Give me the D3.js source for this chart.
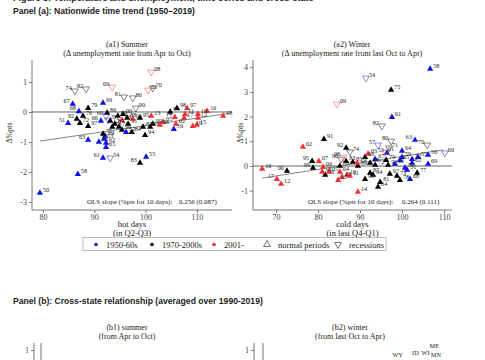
<!DOCTYPE html>
<html><head><meta charset="utf-8">
<script src="https://cdn.jsdelivr.net/npm/d3@7"></script>
<style>body{margin:0;background:#fff}</style>
</head><body>
<svg id="c" width="485" height="360" xmlns="http://www.w3.org/2000/svg"></svg>
<script>
// ---------- DATA ----------
const summerYears = ["50","51","52","53","54","55","56","57","58","59","60","61","62","63","64","65","66","67","68","69",
  "70","71","72","73","74","75","76","77","78","79","80","81","82","83","84","85","86","87","88","89",
  "90","91","92","93","94","95","96","97","98","99","00","01","02","03","04","05","06","07","08","09",
  "10","11","12","13","14","15","16","17","18","19"];
const summerHotDays = [79.4,84.9,96.2,91.9,93.1,100.1,90.9,92.7,86.8,105.5,92.3,91.7,92.3,88.8,92.1,92.3,91.3,85.8,87.0,91.7,
  101.4,93.1,87.2,94.8,86.2,91.7,87.8,100.9,93.5,88.8,97.5,95.8,88.4,98.9,97.3,94.0,92.5,99.5,96.4,94.6,
  98.1,96.6,86.6,104.8,99.9,98.9,95.4,88.8,106.1,101.4,95.6,100.5,105.9,95.4,97.5,103.4,102.8,108.1,101.1,93.5,
  109.2,107.7,110.2,101.1,105.7,110.0,112.0,107.5,115.1,110.2];
const summerDeltaU = [-2.70,-0.37,-0.67,-0.90,-1.53,-1.50,-1.00,-0.27,-2.07,-0.57,-0.13,-1.53,-1.03,-0.93,-0.80,-1.17,-0.30,0.27,0.02,0.30,
  0.80,-0.30,-0.37,-0.50,0.70,-0.73,-0.13,-0.50,-0.50,0.13,0.47,0.50,0.77,-1.70,-0.67,-0.40,-0.03,-0.50,-0.20,-0.13,
  0.13,-0.40,-0.23,0.00,-0.77,-0.20,-0.60,-0.47,0.13,-0.40,-0.07,0.73,-0.40,-0.27,-0.23,-0.33,-0.43,0.13,1.33,0.83,
  -0.47,-0.07,-0.20,-0.13,-0.17,-0.43,0.03,-0.20,-0.13,-0.07];
const summerRecession = ["54","57","60","70","74","80","81","82","90","01","08","09"];

const winterYears = summerYears;
const winterColdDays = [100.7,101.2,102.4,96.4,91.4,103.8,106.2,94.3,106.7,100.0,110.2,97.6,102.4,103.1,100.0,99.5,98.3,93.6,101.9,106.2,
  106.0,96.9,93.6,98.8,87.6,97.4,81.7,103.6,99.5,96.2,97.4,94.8,95.2,86.7,94.3,88.3,85.2,92.4,92.4,89.5,
  85.5,81.4,86.7,96.7,93.1,78.6,91.2,97.1,91.2,78.8,72.6,95.9,76.4,91.9,85.2,82.6,81.2,80.2,86.0,84.5,
  86.9,87.6,71.2,85.7,89.5,84.8,66.7,70.2,81.0,89.3];
const winterDeltaU = [-0.08,-0.16,0.28,0.53,3.56,0.36,0.45,0.85,3.93,0.36,0.53,1.98,0.12,1.05,0.61,0.24,0.08,0.28,-0.53,0.08,
  0.85,0.73,0.04,-0.40,0.57,3.08,-0.36,-0.28,-0.57,0.24,1.01,-0.65,1.62,0.20,-0.85,0.16,0.00,-0.28,0.12,0.00,
  0.28,1.09,0.73,0.04,-0.36,0.20,0.36,-0.32,-0.53,-0.08,-0.20,0.55,0.77,0.49,-0.24,-0.24,-0.04,0.20,0.36,2.51,
  -0.36,-0.40,-0.73,-0.45,-1.05,-0.57,-0.12,-0.53,-0.24,0.12];
const winterRecession = ["54","57","60","70","71","74","80","82","90","01","08","09"];

const summerFitX = [79.4, 116.5], summerFitY = [-0.97, -0.04];
const winterFitX = [66.7, 109.8], winterFitY = [-0.49, 0.65];

const summerXTicks = [80,90,100,110], summerYTicks = [-3,-2,-1,0,1];
const winterXTicks = [70,80,90,100,110], winterYTicks = [-1,0,1,2,3,4];

const summerSlope = "0.256 (0.087)", winterSlope = "0.264 (0.111)";

const eraNames = ["1950-60s","1970-2000s","2001-"];
const periodNames = ["normal periods","recessions"];

// panel (b) (cut off at the bottom of the picture)
const b2States = ["ME","WY","ID","WI","MN"];
const b2Cold = [112.5, 97.0, 104.5, 108.8, 113.2];
const b2DeltaU = [1.08, 0.72, 0.80, 0.80, 0.72];
const bYTicks = [1];

// ---------- DRAW ----------
const svg = d3.select("#c");
const serif = "'Liberation Serif','DejaVu Serif',serif";
const sans = "'Liberation Sans',Arial,sans-serif";
const colBlue = "#1010f0", colBlack = "#000", colRed = "#f03232";
const eraColor = y => { const n = +y; const yr = n >= 50 ? 1900 + n : 2000 + n;
  return yr < 1970 ? colBlue : (yr <= 2000 ? colBlack : colRed); };

// headings
svg.append("text").attr("x",13).attr("y",1).attr("font-family",sans).attr("font-weight","bold")
  .attr("font-size",9).attr("fill","#222").text("Figure 3: Temperature and unemployment, time series and cross-state");
svg.append("text").attr("x",13).attr("y",14).attr("font-family",sans).attr("font-weight","bold")
  .attr("font-size",8.6).attr("fill","#222").text("Panel (a): Nationwide time trend (1950\u20132019)");
svg.append("text").attr("x",13).attr("y",304).attr("font-family",sans).attr("font-weight","bold")
  .attr("font-size",8.6).attr("fill","#222").text("Panel (b): Cross-state relationship (averaged over 1990-2019)");

function titles(cx, y, l1, l2){
  svg.append("text").attr("x",cx).attr("y",y).attr("text-anchor","middle").attr("font-family",serif)
    .attr("font-size",8).attr("fill","#222").text(l1);
  svg.append("text").attr("x",cx).attr("y",y+9).attr("text-anchor","middle").attr("font-family",serif)
    .attr("font-size",8).attr("fill","#222").text(l2);
}
titles(127, 47, "(a1) Summer", "(\u0394 unemployment rate from Apr to Oct)");
titles(352, 47, "(a2) Winter", "(\u0394 unemployment rate from last Oct to Apr)");
titles(127, 330, "(b1) summer", "(from Apr to Oct)");
titles(350, 330, "(b2) winter", "(from last Oct to Apr)");

const triUp = d3.symbol().type(d3.symbolTriangle).size(17)();
const triDown = d3.symbol().type(d3.symbolTriangle).size(20)();

function scatter(o){
  const x = d3.scaleLinear().domain(o.xDom).range([o.left, o.right]);
  const y = d3.scaleLinear().domain(o.yDom).range([o.bottom, o.top]);
  const g = svg.append("g");
  g.append("line").attr("x1",o.left).attr("x2",o.left).attr("y1",o.top).attr("y2",o.bottom)
    .attr("stroke","#777").attr("stroke-width",1);
  g.append("line").attr("x1",o.left).attr("x2",o.right).attr("y1",o.bottom).attr("y2",o.bottom)
    .attr("stroke","#777").attr("stroke-width",1);
  const ya = g.append("g").attr("transform",`translate(${o.left},0)`)
    .call(d3.axisLeft(y).tickValues(o.yTicks).tickSize(3).tickPadding(2).tickFormat(d3.format("d")));
  const xa = g.append("g").attr("transform",`translate(0,${o.bottom})`)
    .call(d3.axisBottom(x).tickValues(o.xTicks).tickSize(3).tickPadding(1).tickFormat(d3.format("d")));
  [ya, xa].forEach(a => { a.select(".domain").remove();
    a.selectAll("line").attr("stroke","#777");
    a.selectAll("text").attr("font-family",serif).attr("font-size",8).attr("fill","#444"); });
  ya.selectAll("text").text(d => d < 0 ? "-" + Math.abs(d) : d);
  g.append("line").attr("x1",o.left).attr("x2",o.right).attr("y1",y(0)).attr("y2",y(0))
    .attr("stroke","#555").attr("stroke-width",0.9);
  g.append("line").attr("x1",x(o.fitX[0])).attr("x2",x(o.fitX[1]))
    .attr("y1",y(o.fitY[0])).attr("y2",y(o.fitY[1])).attr("stroke","#777").attr("stroke-width",0.9);
  g.append("text").attr("transform",`translate(${o.ylabX},${(o.top+o.bottom)/2 - 2}) rotate(-90)`)
    .attr("text-anchor","middle").attr("font-family",serif).attr("font-size",8).attr("fill","#333").text("\u0394%pts");
  g.append("text").attr("x",(o.left+o.right)/2).attr("y",o.bottom+17).attr("text-anchor","middle")
    .attr("font-family",serif).attr("font-size",8.5).attr("fill","#222").text(o.xlab1);
  g.append("text").attr("x",(o.left+o.right)/2).attr("y",o.bottom+26).attr("text-anchor","middle")
    .attr("font-family",serif).attr("font-size",8.5).attr("fill","#222").text(o.xlab2);
  g.append("text").attr("x",o.olsX).attr("y",o.bottom-6).attr("font-family",serif).attr("font-size",7)
    .attr("fill","#222").text("OLS slope (%pts for 10 days):");
  g.append("text").attr("x",o.olsX2).attr("y",o.bottom-6).attr("font-family",serif).attr("font-size",7)
    .attr("fill","#222").text(o.slope);
  const pts = o.years.map((yr,i)=>({yr, xv:o.xs[i], yv:o.ys[i], rec:o.rec.includes(yr)}));
  pts.filter(p=>!p.rec).forEach(p=>{
    g.append("path").attr("d",triUp).attr("transform",`translate(${x(p.xv)},${y(p.yv)})`)
      .attr("fill",eraColor(p.yr));
  });
  pts.filter(p=>p.rec).forEach(p=>{
    g.append("path").attr("d",triDown).attr("transform",`translate(${x(p.xv)},${y(p.yv)}) rotate(180)`)
      .attr("fill","none").attr("stroke",eraColor(p.yr)).attr("stroke-opacity",0.6).attr("stroke-width",0.8);
  });
  pts.forEach(p=>{
    const left = o.leftLabels.includes(p.yr);
    g.append("text").attr("x",x(p.xv) + (left?-3:3)).attr("y",y(p.yv) - 1)
      .attr("text-anchor",left?"end":"start").attr("font-family",serif).attr("font-size",6.2)
      .attr("fill","#222").text(p.yr);
  });
}

scatter({left:32,right:232,top:60,bottom:210,xDom:[77.86,116.84],yDom:[-3.267,1.733],
  xTicks:summerXTicks,yTicks:summerYTicks,fitX:summerFitX,fitY:summerFitY,ylabX:12,
  xlab1:"hot days",xlab2:"(in Q2-Q3)",olsX:87,olsX2:179,slope:summerSlope,
  years:summerYears,xs:summerHotDays,ys:summerDeltaU,rec:summerRecession,
  leftLabels:["74","82","09","81","67","68","51","92","14","83","61","63","60","66"]});
scatter({left:253,right:452,top:60,bottom:210,xDom:[64.52,111.9],yDom:[-1.78,4.29],
  xTicks:winterXTicks,yTicks:winterYTicks,fitX:winterFitX,fitY:winterFitY,ylabX:243,
  xlab1:"cold days",xlab2:"(in last Q4-Q1)",olsX:308,olsX2:402,slope:winterSlope,
  years:winterYears,xs:winterColdDays,ys:winterDeltaU,rec:winterRecession,
  leftLabels:["95","00","99","82","80","57","63","70","92","08","90","53","17"]});

// legend
const lg = svg.append("g");
lg.append("rect").attr("x",83).attr("y",237.5).attr("width",303).attr("height",13)
  .attr("fill","#fff").attr("stroke","#aaa").attr("stroke-width",0.8);
const eraCols = [colBlue, colBlack, colRed], eraX = [96,152,214];
eraNames.forEach((n,i)=>{
  lg.append("circle").attr("cx",eraX[i]).attr("cy",244.5).attr("r",1.8).attr("fill",eraCols[i]);
  lg.append("text").attr("x",eraX[i]+10).attr("y",247.5).attr("font-family",serif).attr("font-size",8.5)
    .attr("fill","#222").text(n);
});
const perX = [267,338];
periodNames.forEach((n,i)=>{
  lg.append("path").attr("d",triDown).attr("transform",`translate(${perX[i]},244.5)${i?" rotate(180)":""}`)
    .attr("fill","none").attr("stroke","#333").attr("stroke-width",0.7);
  lg.append("text").attr("x",perX[i]+11).attr("y",247.5).attr("font-family",serif).attr("font-size",8.5)
    .attr("fill","#222").text(n);
});

// panel (b) partial axes
function partialAxis(ax, bx){
  const yb = d3.scaleLinear().domain([0,1]).range([375,350]);
  const a = svg.append("g").attr("transform",`translate(${ax},0)`)
    .call(d3.axisLeft(yb).tickValues(bYTicks).tickSize(3).tickPadding(2).tickFormat(d3.format("d")));
  a.select(".domain").remove();
  a.selectAll("line").attr("stroke","#777");
  a.selectAll("text").attr("font-family",serif).attr("font-size",8).attr("fill","#444");
  svg.append("line").attr("x1",ax).attr("x2",ax).attr("y1",343).attr("y2",360).attr("stroke","#777");
  svg.append("line").attr("x1",bx).attr("x2",bx).attr("y1",343).attr("y2",360).attr("stroke","#777");
  return yb;
}
partialAxis(34, 41);
const yb2 = partialAxis(254, 263);
const xb2 = d3.scaleLinear().domain([40,120]).range([263,452]);
b2States.forEach((s,i)=>{
  svg.append("text").attr("x",xb2(b2Cold[i])).attr("y",yb2(b2DeltaU[i])).attr("text-anchor","middle")
    .attr("font-family",serif).attr("font-size",6.3).attr("fill","#222").text(s);
});
</script>
</body></html>
